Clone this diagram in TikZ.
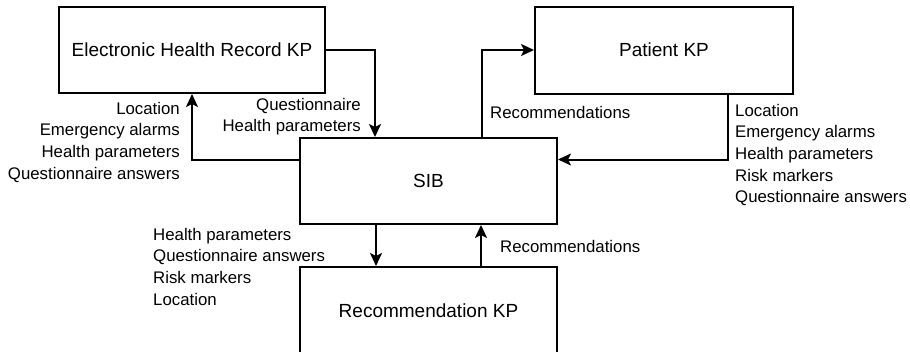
\documentclass[tikz,border=0pt]{standalone}
\usepackage{fontspec}
\setmainfont{Liberation Sans}
\usetikzlibrary{arrows.meta}
\tikzset{
  kpbox/.style={draw=black, line width=2pt, rectangle, inner sep=0pt, fill=white,
    font=\fontsize{19}{22}\selectfont},
  arr/.style={draw=black, line width=2pt, -{Stealth[length=13pt,width=12pt,inset=3pt]}},
  lbl/.style={inner sep=0pt, font=\fontsize{16.8}{21.6}\selectfont}
}
\begin{document}
\begin{tikzpicture}[x=1pt,y=-1pt]
\useasboundingbox (0,0) rectangle (910,351);
\clip (0,0) rectangle (910,351);
\fill[white] (0,0) rectangle (910,351);
% boxes
\node[kpbox, minimum width=266, minimum height=86] (ehr) at (192,50) {Electronic Health Record KP};
\node[kpbox, minimum width=258, minimum height=87] (pat) at (664,50) {Patient KP};
\node[kpbox, minimum width=257, minimum height=86] (sib) at (428.5,181) {SIB};
\node[kpbox, minimum width=257, minimum height=88] (rec) at (428.5,311) {Recommendation KP};
% connectors
\draw[arr] (ehr.east) -| (sib.north -| 375,0);
\draw[arr] (sib.west |- 0,159.5) -| (ehr.south);
\draw[arr] (sib.north -| 482,0) |- (pat.west);
\draw[arr] (pat.south -| 728,0) |- (sib.east |- 0,159.5);
\draw[arr] (sib.south -| 376,0) -- (rec.north -| 376,0);
\draw[arr] (rec.north -| 481,0) -- (sib.south -| 481,0);
% labels
\node[lbl, anchor=north east, align=right] (l1) at (180,102) {Location\\Emergency alarms\\Health parameters\\Questionnaire answers};
\node[lbl, anchor=north east, align=right] (l2) at (361,98) {Questionnaire\\Health parameters};
\node[lbl, anchor=north west, align=left] (l3) at (490,106) {Recommendations};
\node[lbl, anchor=north west, align=left] (l4) at (735,104) {Location\\Emergency alarms\\Health parameters\\Risk markers\\Questionnaire answers};
\node[lbl, anchor=north west, align=left] (l5) at (153,228) {Health parameters\\Questionnaire answers\\Risk markers\\Location};
\node[lbl, anchor=north west, align=left] (l6) at (500,240) {Recommendations};
\end{tikzpicture}
\end{document}
